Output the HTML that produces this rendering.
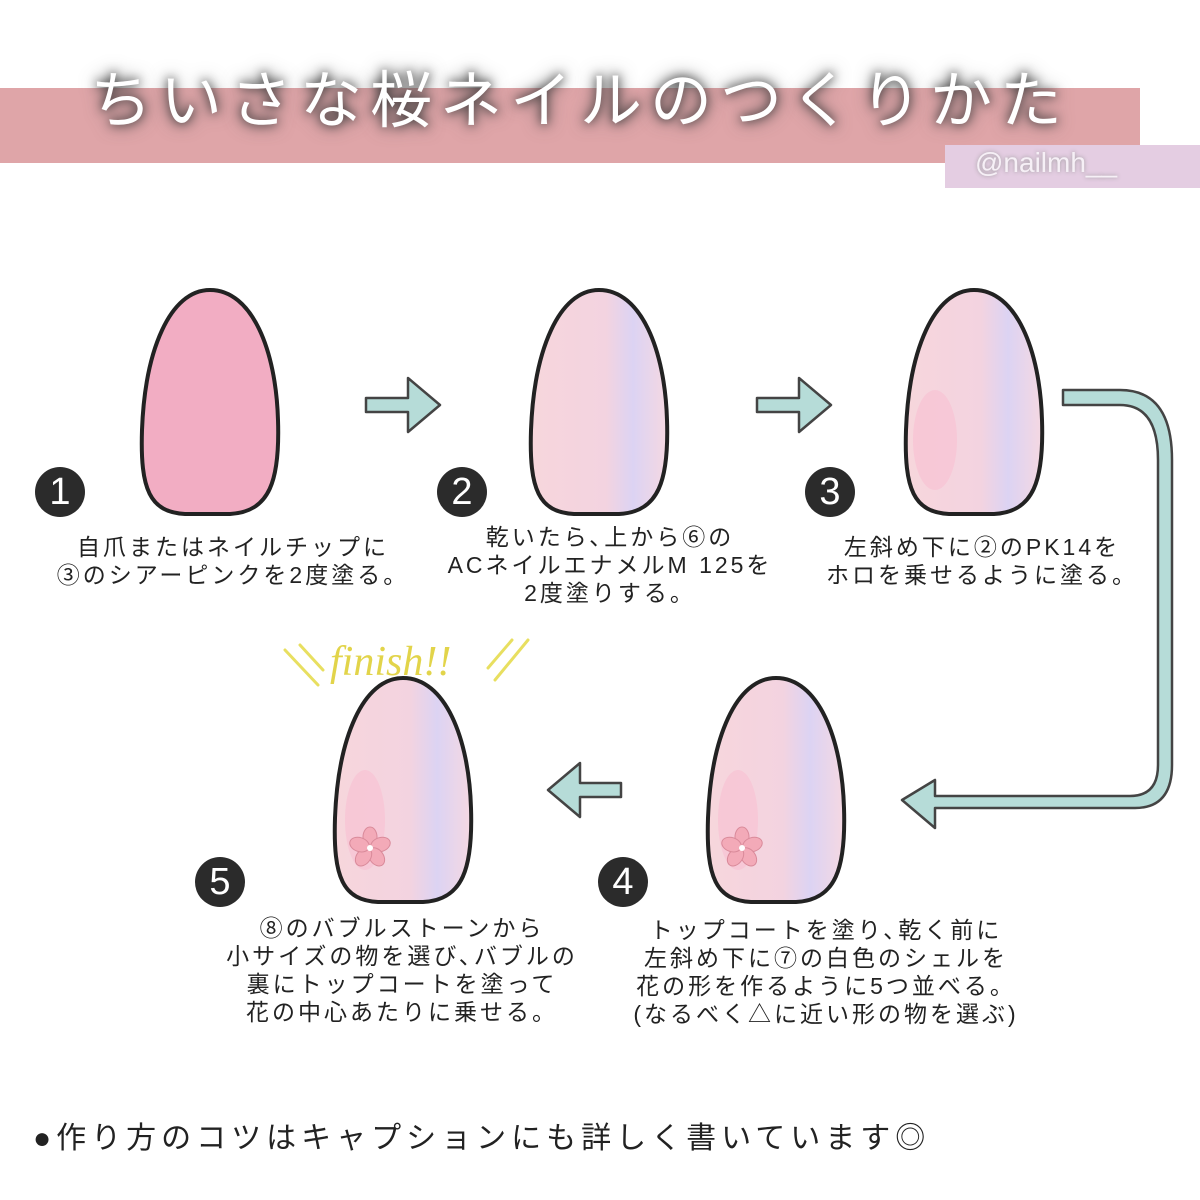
<!DOCTYPE html>
<html><head><meta charset="utf-8"><style>
body{margin:0;width:1200px;height:1200px;background:#fff;position:relative;overflow:hidden;font-family:"Liberation Sans","Noto Sans CJK JP",sans-serif;}
.abs{position:absolute}
.cap{position:absolute;text-align:center;font-size:23px;line-height:28px;color:#222;letter-spacing:3px;white-space:nowrap;transform:translateX(-50%)}
.num{position:absolute;width:50px;height:50px;border-radius:50%;background:#2b2b2b;color:#fff;font-size:38px;line-height:50px;text-align:center;font-family:"Liberation Sans",sans-serif}
</style></head><body>
<div class="abs" style="left:0;top:88px;width:1140px;height:75px;background:#dfa5a8"></div>
<div class="abs" style="left:945px;top:145px;width:255px;height:43px;background:#e4cde2"></div>
<div class="abs" style="left:975px;top:147px;font-size:28px;color:#f6f0f6;text-shadow:0 0 4px #999">@nailmh__</div>
<div class="abs" style="left:80px;top:50px;width:1000px;text-align:center;font-size:62px;letter-spacing:8px;white-space:nowrap;color:#fff;text-shadow:0 0 10px #333,0 0 18px #555">ちいさな桜ネイルのつくりかた</div>

<svg class="abs" style="left:0;top:0" width="1200" height="1200">
<defs>
<linearGradient id="g" x1="0" x2="1"><stop offset="0" stop-color="#f7d6dc"/><stop offset="0.55" stop-color="#f3d3e0"/><stop offset="0.75" stop-color="#dcd3f3"/><stop offset="1" stop-color="#f5d8e2"/></linearGradient>
<path id="nail" d="M70,0 C112,0 136,60 138,130 C140,190 130,222 90,224 L45,224 C10,222 0,200 2,140 C5,60 30,0 70,0 Z"/>
<g id="fl"><g fill="#f3aab8" stroke="#d98a9a" stroke-width="1">
<ellipse cx="0" cy="-11" rx="7" ry="10"/><ellipse cx="0" cy="-11" rx="7" ry="10" transform="rotate(72)"/><ellipse cx="0" cy="-11" rx="7" ry="10" transform="rotate(144)"/><ellipse cx="0" cy="-11" rx="7" ry="10" transform="rotate(216)"/><ellipse cx="0" cy="-11" rx="7" ry="10" transform="rotate(288)"/></g><circle r="3" fill="#fff"/></g>
</defs>
<g stroke="#222" stroke-width="4">
<use href="#nail" x="140" y="290" fill="#f2adc3"/>
<use href="#nail" x="529" y="290" fill="url(#g)"/>
<use href="#nail" x="904" y="290" fill="url(#g)"/>
<use href="#nail" x="333" y="678" fill="url(#g)"/>
<use href="#nail" x="706" y="678" fill="url(#g)"/>
</g>
<g fill="#f7c4d4" opacity="0.8">
<ellipse cx="935" cy="440" rx="22" ry="50"/><ellipse cx="365" cy="820" rx="20" ry="50"/><ellipse cx="738" cy="820" rx="20" ry="50"/>
</g>
<use href="#fl" x="370" y="848"/><use href="#fl" x="742" y="848"/>
<g fill="#b6dcd8" stroke="#444" stroke-width="2.5" stroke-linejoin="round">
<path d="M366,398 H408 V378 L440,405 L408,432 V412 H366 Z"/>
<path d="M757,398 H799 V378 L831,405 L799,432 V412 H757 Z"/>
<path d="M621,783 H580 V763 L548,790 L580,817 V797 H621 Z"/>
<path d="M1063,390 H1120 Q1172,390 1172,460 V765 Q1172,808 1135,808 H935 V828 L902,800 L935,780 V796 H1130 Q1158,796 1158,765 V460 Q1158,405 1120,405 H1063 Z"/>
</g>
<g stroke="#e8df60" stroke-width="3" stroke-linecap="round">
<line x1="285" y1="650" x2="318" y2="685"/><line x1="300" y1="645" x2="323" y2="670"/>
<line x1="528" y1="640" x2="495" y2="680"/><line x1="512" y1="640" x2="488" y2="668"/>
</g>
<text x="330" y="675" font-family="Liberation Serif,serif" font-style="italic" font-size="42" fill="#e2d44a">finish!!</text>
</svg>

<div class="num" style="left:35px;top:467px">1</div>
<div class="num" style="left:437px;top:467px">2</div>
<div class="num" style="left:805px;top:467px">3</div>
<div class="num" style="left:195px;top:857px">5</div>
<div class="num" style="left:598px;top:857px">4</div>

<div class="cap" style="left:233px;top:533px">自爪またはネイルチップに<br>③のシアーピンクを2度塗る。</div>
<div class="cap" style="left:610px;top:523px">乾いたら､上から⑥の<br>ACネイルエナメルM 125を<br>2度塗りする。</div>
<div class="cap" style="left:982px;top:533px">左斜め下に②のPK14を<br>ホロを乗せるように塗る。</div>
<div class="cap" style="left:402px;top:914px">⑧のバブルストーンから<br>小サイズの物を選び､バブルの<br>裏にトップコートを塗って<br>花の中心あたりに乗せる。</div>
<div class="cap" style="left:826px;top:916px">トップコートを塗り､乾く前に<br>左斜め下に⑦の白色のシェルを<br>花の形を作るように5つ並べる。<br>(なるべく△に近い形の物を選ぶ)</div>
<div class="abs" style="left:33px;top:1113px;font-size:30px;letter-spacing:5px;color:#222;white-space:nowrap">●作り方のコツはキャプションにも詳しく書いています◎</div>
</body></html>
